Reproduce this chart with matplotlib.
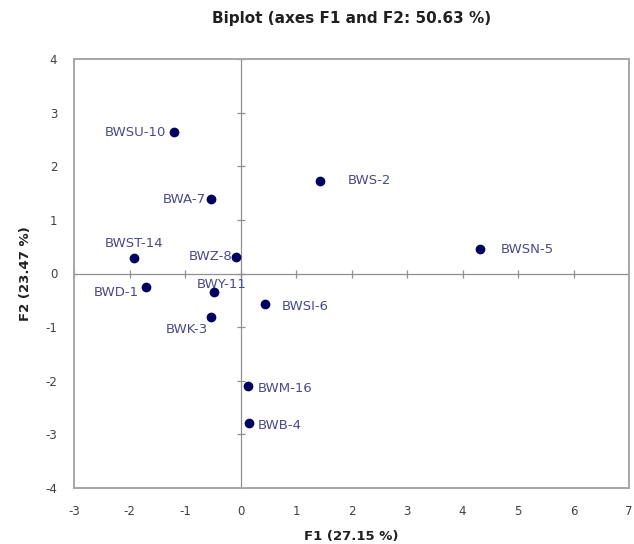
import numpy as np
import matplotlib
matplotlib.use("Agg")
import matplotlib.pyplot as plt

plt.rcParams["axes.unicode_minus"] = False

# observations on the first two factors
names = ["BWSU-10", "BWA-7", "BWST-14", "BWZ-8", "BWS-2", "BWSN-5",
         "BWD-1", "BWY-11", "BWK-3", "BWSI-6", "BWM-16", "BWB-4"]
f1 = [-1.19, -0.54, -1.92, -0.08, 1.43, 4.31,
      -1.70, -0.47, -0.53, 0.44, 0.13, 0.15]
f2 = [2.63, 1.38, 0.29, 0.31, 1.73, 0.45,
      -0.26, -0.35, -0.82, -0.57, -2.10, -2.78]

x_ticks = [-3, -2, -1, 0, 1, 2, 3, 4, 5, 6, 7]
y_ticks = [-4, -3, -2, -1, 0, 1, 2, 3, 4]

# label placement (pixel offsets, alignment) - excel style, hand placed
label_pos = {
    "BWSU-10": (-8, 0, "right", "center"),
    "BWA-7": (-5, 0, "right", "center"),
    "BWST-14": (0, 8, "center", "bottom"),
    "BWZ-8": (-4, 0, "right", "center"),
    "BWS-2": (28, 0, "left", "center"),
    "BWSN-5": (21, 0, "left", "center"),
    "BWD-1": (-7, -5, "right", "center"),
    "BWY-11": (7, 8, "center", "center"),
    "BWK-3": (-24, -12, "center", "center"),
    "BWSI-6": (17, -2, "left", "center"),
    "BWM-16": (10, -2, "left", "center"),
    "BWB-4": (9, -3, "left", "center"),
}

fig = plt.figure(figsize=(6.34, 5.44), dpi=100)
ax = fig.add_axes([74 / 634, 56 / 544, 555 / 634, 429 / 544])

frame_col = "#a6a6a6"
ax.axhline(0, color="#909090", lw=0.9, zorder=1)
ax.axvline(0, color="#909090", lw=0.9, zorder=1)
# small ticks across the zero lines
ax.plot(x_ticks, [0] * len(x_ticks), ls="none", marker="|", ms=6, mew=0.9, color="#909090", zorder=1)
ax.plot([0] * len(y_ticks), y_ticks, ls="none", marker="_", ms=6, mew=0.9, color="#909090", zorder=1)

ax.scatter(f1, f2, s=36, color="#000060", zorder=3)

for n, x, y in zip(names, f1, f2):
    dx, dy, ha, va = label_pos[n]
    ax.annotate(n, (x, y), xytext=(dx, dy), textcoords="offset pixels",
                ha=ha, va=va, fontsize=9.5, color="#4a4a8c")

ax.set_xlim(-3, 7)
ax.set_ylim(-4, 4)
ax.set_xticks(x_ticks)
ax.set_yticks(y_ticks)
ax.tick_params(length=0, labelsize=8.5, colors="#404040", pad=12)
for s in ax.spines.values():
    s.set_color(frame_col)
    s.set_linewidth(1.4)

ax.set_title("Biplot (axes F1 and F2: 50.63 %)", fontsize=11, fontweight="bold",
             color="#202020", pad=26)
ax.set_xlabel("F1 (27.15 %)", fontsize=9.5, fontweight="bold", color="#202020", labelpad=9)
ax.set_ylabel("F2 (23.47 %)", fontsize=9.5, fontweight="bold", color="#202020", labelpad=10)

fig.savefig("out.png", dpi=100)
